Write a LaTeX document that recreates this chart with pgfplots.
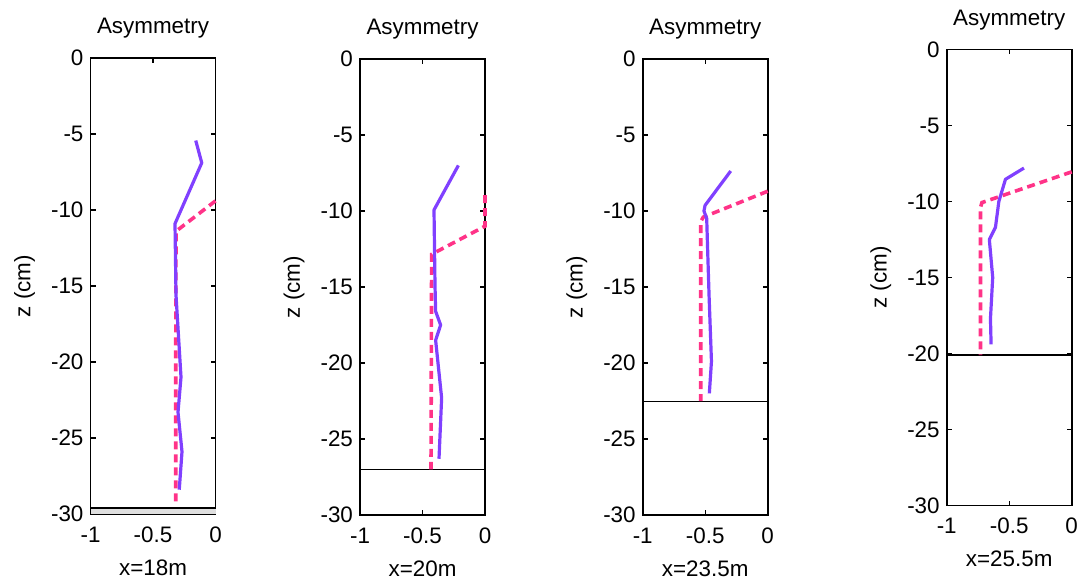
\documentclass[border=0pt]{standalone}
\usepackage{fontspec}
\setmainfont{Liberation Sans}
\usepackage{pgfplots}
\pgfplotsset{compat=1.18}
\definecolor{asym}{RGB}{128,64,255}
\definecolor{pinkd}{RGB}{255,51,136}
\pgfplotsset{
  panel/.style={
    scale only axis, width=62.5pt, height=228pt,
    xmin=-1, xmax=0, ymin=-30, ymax=0,
    xtick={-1,-0.5,0}, ytick={-30,-25,-20,-15,-10,-5,0},
    xticklabels={-1,-0.5,0},
    yticklabels={-30,-25,-20,-15,-10,-5,0},
    tick align=inside, major tick length=2.5pt,
    every tick/.style={black, line width=0.6pt},
    axis line style={line width=0.9pt},
    font=\fontsize{11.2}{13}\selectfont,
    title={Asymmetry},
    title style={at={(0.5,1)}, anchor=base, yshift=6pt, inner sep=0pt},
    ylabel={z (cm)},
    ylabel style={at={([xshift=-33pt]axis description cs:0,0.5)}, anchor=center, rotate=0},
    xlabel style={at={(0.5,0)}, anchor=base, yshift=-30.5pt, inner sep=0pt},
    xticklabel style={anchor=base, yshift=-14pt},
    clip=false,
  },
  prof/.style={color=asym, line width=1.6pt, line join=round},
  fit/.style={color=pinkd, line width=1.8pt, dash pattern=on 4pt off 2.5pt},
  bed/.style={black, line width=0.6pt},
}
\begin{document}
\begin{tikzpicture}
\useasboundingbox (0,0) rectangle (539.5pt,291.5pt);
% Panel 1
\begin{axis}[panel, at={(45.25pt,34.5pt)}, anchor=south west, xlabel={x=18m}]
\addplot[fill=gray!25, draw=none] coordinates {(-1,-30) (0,-30) (0,-29.6) (-1,-29.6)} -- cycle;
\addplot[black, line width=0.9pt] coordinates {(-1,-29.6) (0,-29.6)};
\addplot[fit] coordinates {(0,-9.4) (-0.316,-11.4) (-0.318,-20) (-0.318,-29.4)};
\addplot[prof] coordinates {(-0.158,-5.43) (-0.11,-6.9) (-0.324,-10.9) (-0.316,-15.6) (-0.276,-21) (-0.30,-23.3) (-0.268,-25.9) (-0.29,-28.4)};
\end{axis}
% Panel 2
\begin{axis}[panel, at={(180pt,34pt)}, anchor=south west, xlabel={x=20m}]
\addplot[bed] coordinates {(-1,-27.0) (0,-27.0)};
\addplot[fit] coordinates {(0,-8.95) (0,-11.0) (-0.427,-12.85) (-0.432,-27.0)};
\addplot[prof] coordinates {(-0.213,-7.0) (-0.408,-9.93) (-0.40,-14.9) (-0.395,-16.6) (-0.355,-17.5) (-0.395,-18.5) (-0.347,-22.3) (-0.368,-26.3)};
\end{axis}
% Panel 3
\begin{axis}[panel, at={(321.35pt,34pt)}, anchor=south west, xlabel={x=23.5m}]
\addplot[bed] coordinates {(-1,-22.55) (0,-22.55)};
\addplot[fit] coordinates {(0,-8.7) (-0.515,-10.4) (-0.536,-10.7) (-0.536,-22.5)};
\addplot[prof] coordinates {(-0.296,-7.37) (-0.501,-9.63) (-0.51,-10.0) (-0.488,-10.5) (-0.48,-12.7) (-0.469,-15.6) (-0.45,-19.9) (-0.467,-22.0)};
\end{axis}
% Panel 4
\begin{axis}[panel, at={(473.35pt,38.75pt)}, anchor=south west, xlabel={x=25.5m}]
\addplot[bed] coordinates {(-1,-20.1) (0,-20.1)};
\addplot[fit] coordinates {(0,-8.05) (-0.718,-10.07) (-0.73,-10.4) (-0.73,-20.1)};
\addplot[prof] coordinates {(-0.382,-7.8) (-0.53,-8.54) (-0.583,-10.0) (-0.61,-11.7) (-0.659,-12.5) (-0.632,-15.0) (-0.65,-17.7) (-0.645,-19.4)};
\end{axis}
\end{tikzpicture}
\end{document}
